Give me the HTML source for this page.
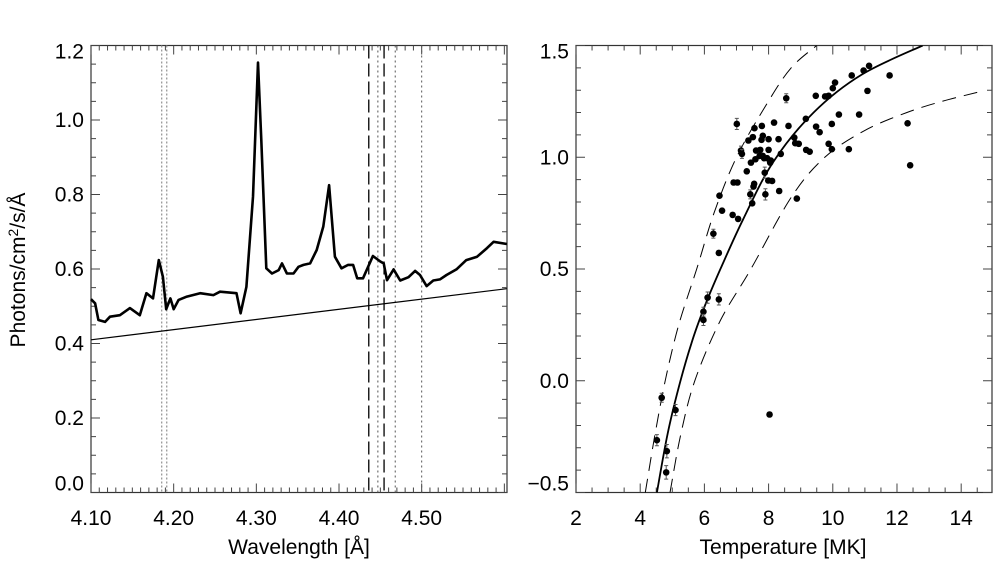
<!DOCTYPE html>
<html><head><meta charset="utf-8"><style>
html,body{margin:0;padding:0;background:#fff;width:1001px;height:571px;overflow:hidden}
svg text{font-family:"Liberation Sans",sans-serif;fill:#000}
</style></head><body>
<svg id="fig" width="1001" height="571" viewBox="0 0 1001 571" xmlns="http://www.w3.org/2000/svg"></svg>
<script>
// ---- Left panel data (spectrum) ----
const waveData = [4.100,4.105,4.109,4.117,4.123,4.135,4.147,4.159,4.167,4.175,4.182,4.187,4.191,4.196,4.200,4.206,4.216,4.232,4.248,4.256,4.276,4.281,4.288,4.296,4.302,4.306,4.312,4.319,4.327,4.331,4.337,4.345,4.351,4.357,4.365,4.373,4.381,4.388,4.395,4.403,4.411,4.417,4.422,4.429,4.441,4.450,4.454,4.458,4.466,4.474,4.484,4.492,4.498,4.506,4.514,4.522,4.530,4.542,4.554,4.567,4.579,4.587,4.603];
const fluxData = [0.519,0.508,0.463,0.458,0.472,0.476,0.495,0.476,0.535,0.521,0.624,0.579,0.492,0.521,0.492,0.517,0.526,0.535,0.530,0.539,0.535,0.481,0.552,0.794,1.154,0.946,0.602,0.588,0.597,0.615,0.588,0.588,0.606,0.611,0.615,0.651,0.714,0.825,0.633,0.602,0.611,0.611,0.575,0.575,0.635,0.620,0.615,0.570,0.599,0.569,0.578,0.595,0.584,0.554,0.569,0.572,0.584,0.599,0.624,0.633,0.656,0.673,0.667];
const contWave = [4.100,4.603];
const contFlux = [0.410,0.547];
const dottedGreyLines = [4.1855,4.1916];
const dashedLines = [4.436,4.4545];
const dottedLines = [4.447,4.468,4.500];
const leftXTicks = [4.10,4.20,4.30,4.40,4.50];
const leftXLabels = ["4.10","4.20","4.30","4.40","4.50"];
const leftYTicks = [0.0,0.2,0.4,0.6,0.8,1.0,1.2];
const leftYLabels = ["0.0","0.2","0.4","0.6","0.8","1.0","1.2"];

// ---- Right panel data (temperature) ----
const tempData = [7.01,7.56,7.79,8.17,8.55,8.62,9.16,9.47,9.76,9.82,9.87,10.00,10.07,10.59,10.96,11.13,11.77,11.08,10.82,10.19,9.97,9.59,9.48,9.87,9.97,10.50,12.33,12.41,7.37,7.51,7.82,7.78,8.00,8.31,8.80,8.83,8.94,9.17,9.28,7.14,7.17,7.61,7.74,7.59,7.82,7.95,8.00,8.07,8.05,7.45,7.32,7.88,7.72,6.91,7.03,7.55,7.53,7.99,8.11,8.33,7.43,7.90,6.47,6.55,6.88,7.05,7.49,8.88,6.28,6.45,6.10,6.45,5.97,5.97,4.67,5.10,8.03,4.52,4.83,4.81,8.38,7.86];
const ratioData = [1.149,1.130,1.140,1.155,1.264,1.140,1.172,1.275,1.272,1.272,1.275,1.309,1.334,1.366,1.388,1.409,1.366,1.297,1.191,1.191,1.149,1.112,1.137,1.060,1.036,1.036,1.152,0.964,1.075,1.090,1.096,1.078,1.081,1.081,1.088,1.063,1.060,1.033,1.025,1.030,1.015,1.030,1.033,0.991,1.006,0.996,1.033,0.985,0.976,0.976,0.937,0.931,1.006,0.887,0.887,0.881,0.869,0.896,0.894,0.849,0.834,0.834,0.828,0.761,0.742,0.724,0.794,0.815,0.658,0.572,0.372,0.364,0.309,0.272,-0.076,-0.131,-0.151,-0.266,-0.315,-0.410,1.015,0.996];
const ratioErr = [0.025,0.01,0.01,0.01,0.02,0.01,0.01,0.01,0.01,0.01,0.01,0.01,0.01,0.01,0.01,0.01,0.01,0.01,0.01,0.01,0.01,0.01,0.01,0.01,0.01,0.01,0.01,0.01,0.01,0.01,0.01,0.01,0.01,0.01,0.01,0.01,0.01,0.01,0.01,0.02,0.02,0.01,0.01,0.01,0.01,0.01,0.01,0.01,0.01,0.01,0.01,0.025,0.01,0.01,0.01,0.01,0.01,0.01,0.01,0.01,0.02,0.025,0.01,0.01,0.01,0.01,0.01,0.01,0.02,0.01,0.025,0.025,0.02,0.025,0.02,0.025,0.01,0.025,0.03,0.03,0.01,0.01];
const fitT = [4.52,4.85,5.2,5.6,6.0,6.5,7.2,8.15,9.4,10.9,12.8];
const fitY = [-0.5,-0.24,-0.03,0.17,0.33,0.5,0.72,0.98,1.2,1.37,1.5];
const upperT = [4.16,4.45,4.78,5.2,5.76,6.3,7.0,7.95,8.7,9.5];
const upperY = [-0.5,-0.25,0.0,0.25,0.5,0.75,1.0,1.24,1.4,1.5];
const lowerT = [4.93,5.25,5.7,6.5,7.45,8.7,9.75,11.0,12.3,13.4,14.5];
const lowerY = [-0.5,-0.25,0.0,0.27,0.5,0.82,1.0,1.12,1.2,1.25,1.29];
const rightXTicks = [2,4,6,8,10,12,14];
const rightXLabels = ["2","4","6","8","10","12","14"];
const rightYTicks = [-0.5,0.0,0.5,1.0,1.5];
const rightYLabels = ["\u22120.5","0.0","0.5","1.0","1.5"];

const NS="http://www.w3.org/2000/svg";
const svg=document.getElementById('fig');
function mk(tag,attrs,parent){const e=document.createElementNS(NS,tag);for(const k in attrs)e.setAttribute(k,attrs[k]);(parent||svg).appendChild(e);return e;}

const TOP=45.5,BOT=492.5;
const L={x0:91,x1:507,xmin:4.10,xmax:4.6032,ymin:0,ymax:1.2};
const R={x0:576,x1:992,xmin:2,xmax:14.96,ymin:-0.5,ymax:1.5};
function sx(A,v){return A.x0+(v-A.xmin)/(A.xmax-A.xmin)*(A.x1-A.x0);}
function sy(A,v){return BOT-(v-A.ymin)/(A.ymax-A.ymin)*(BOT-TOP);}
function pathFrom(A,xs,ys){let d='';for(let i=0;i<xs.length;i++){d+=(i?'L':'M')+sx(A,xs[i]).toFixed(1)+','+sy(A,ys[i]).toFixed(1);}return d;}
function smoothFrom(A,xs,ys){
  const p=xs.map((x,i)=>[sx(A,x),sy(A,ys[i])]);
  let d='M'+p[0][0].toFixed(1)+','+p[0][1].toFixed(1);
  for(let i=0;i<p.length-1;i++){
    const p0=p[Math.max(0,i-1)],p1=p[i],p2=p[i+1],p3=p[Math.min(p.length-1,i+2)];
    const c1=[p1[0]+(p2[0]-p0[0])/6,p1[1]+(p2[1]-p0[1])/6];
    const c2=[p2[0]-(p3[0]-p1[0])/6,p2[1]-(p3[1]-p1[1])/6];
    d+=`C${c1[0].toFixed(1)},${c1[1].toFixed(1)} ${c2[0].toFixed(1)},${c2[1].toFixed(1)} ${p2[0].toFixed(1)},${p2[1].toFixed(1)}`;
  }
  return d;
}

function frame(A,name,xMinorStep,xMajor,yMinorStep,yMajor){
  const g=mk('g',{});
  
  
  const r=mk('rect',{x:A.x0,y:TOP,width:A.x1-A.x0,height:BOT-TOP,fill:'none',stroke:'#333','stroke-width':1.2},g);
  
  
  let d='';
  const nx=Math.round((A.xmax-A.xmin)/xMinorStep);
  for(let i=0;i<=nx+1;i++){const v=A.xmin+i*xMinorStep;if(v>A.xmax+1e-9)break;const x=sx(A,v);
    const isMaj=Math.abs(((v-xMajor[0])/(xMajor[1]))-Math.round((v-xMajor[0])/(xMajor[1])))<1e-6;const len=isMaj?9:5;
    d+=`M${x},${BOT}v${-len}M${x},${TOP}v${len}`;}
  const ny=Math.round((A.ymax-A.ymin)/yMinorStep);
  for(let i=0;i<=ny;i++){const v=A.ymin+i*yMinorStep;const y=sy(A,v);
    const isMaj=Math.abs(((v-yMajor[0])/(yMajor[1]))-Math.round((v-yMajor[0])/(yMajor[1])))<1e-6;const len=isMaj?9:5;
    d+=`M${A.x0},${y}h${len}M${A.x1},${y}h${-len}`;}
  const t=mk('path',{d:d,stroke:'#444','stroke-width':1,fill:'none'},g);
  
  
}
function xlabels(A,ticks,labels,name){
  ticks.forEach((v,i)=>{const t=mk('text',{x:sx(A,v),y:525,'font-size':21,'text-anchor':'middle'});t.textContent=labels[i];
    
    });
}
function ylabels(A,ticks,labels,name,xr){
  ticks.forEach((v,i)=>{let y=sy(A,v)+7;if(y<TOP+13)y=TOP+13;if(y>BOT-2)y=BOT-2;
    const t=mk('text',{x:xr,y:y,'font-size':21,'text-anchor':'end'});t.textContent=labels[i];
    
    });
}

// ---- Left panel ----
frame(L,'spectrum',0.01,[4.10,0.1],0.05,[0,0.2]);
dottedGreyLines.forEach(w=>{const l=mk('line',{x1:sx(L,w),x2:sx(L,w),y1:TOP,y2:BOT,stroke:'#999','stroke-width':1.3,'stroke-dasharray':'2,2'});
  
  });
dashedLines.forEach(w=>{const l=mk('line',{x1:sx(L,w),x2:sx(L,w),y1:TOP,y2:BOT,stroke:'#000','stroke-width':1.3,'stroke-dasharray':'13,5'});
  
  });
dottedLines.forEach(w=>{const l=mk('line',{x1:sx(L,w),x2:sx(L,w),y1:TOP,y2:BOT,stroke:'#555','stroke-width':1,'stroke-dasharray':'2,3'});
  
  });
const cont=mk('path',{d:pathFrom(L,contWave,contFlux),stroke:'#000','stroke-width':1.2,fill:'none'});


const spec=mk('path',{d:pathFrom(L,waveData,fluxData),stroke:'#000','stroke-width':2.6,fill:'none','stroke-linejoin':'round'});


xlabels(L,leftXTicks,leftXLabels,'spectrum');
ylabels(L,leftYTicks,leftYLabels,'spectrum',84);
let tt=mk('text',{x:299,y:554,'font-size':21,'text-anchor':'middle'});tt.textContent='Wavelength [Å]';


tt=mk('text',{x:0,y:0,'font-size':21,'text-anchor':'middle',transform:'translate(25,270) rotate(-90)'});
tt.innerHTML='Photons/cm<tspan font-size="14" dy="-7">2</tspan><tspan dy="7">/s/Å</tspan>';



// ---- Right panel ----
frame(R,'temperature',0.5,[2,2],0.1,[-0.5,0.5]);
const clip=mk('clipPath',{id:'rc'});mk('rect',{x:R.x0,y:TOP,width:R.x1-R.x0,height:BOT-TOP},clip);
const up=mk('path',{d:smoothFrom(R,upperT,upperY),stroke:'#000','stroke-width':1,fill:'none','stroke-dasharray':'14,8','clip-path':'url(#rc)'});


const lo=mk('path',{d:smoothFrom(R,lowerT,lowerY),stroke:'#000','stroke-width':1,fill:'none','stroke-dasharray':'14,8','clip-path':'url(#rc)'});


const fit=mk('path',{d:smoothFrom(R,fitT,fitY),stroke:'#000','stroke-width':1.8,fill:'none','clip-path':'url(#rc)'});


tempData.forEach((T,i)=>{
  const x=sx(R,T),y=sy(R,ratioData[i]);
  const e=sy(R,ratioData[i]+ratioErr[i])-y;
  const eb=mk('path',{d:`M${x},${y+e}V${y-e}M${x-2},${y+e}h4M${x-2},${y-e}h4`,stroke:'#555','stroke-width':1,fill:'none'});
  
  
  const c=mk('circle',{cx:x,cy:y,r:3.3,fill:'#000'});
  
  
});
xlabels(R,rightXTicks,rightXLabels,'temperature');
ylabels(R,rightYTicks,rightYLabels,'temperature',569);
tt=mk('text',{x:783,y:554,'font-size':21,'text-anchor':'middle'});tt.textContent='Temperature [MK]';


</script>
</body></html>
